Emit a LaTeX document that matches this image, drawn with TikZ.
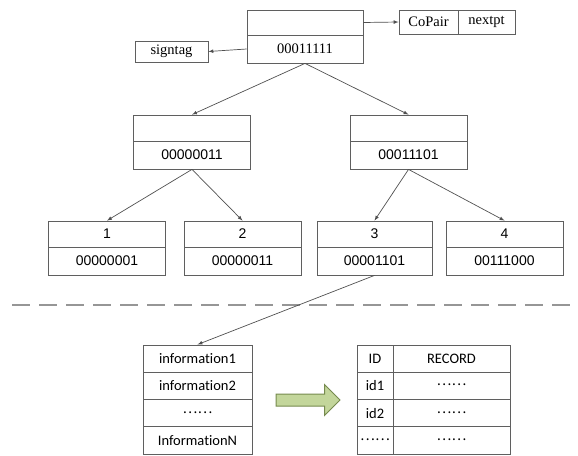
\documentclass[tikz,border=0pt]{standalone}
\usepackage{fontspec}
\setmainfont{Liberation Serif}
\newfontfamily\treefont{Liberation Sans}
\newfontfamily\tablefont[Ligatures=CommonOff]{Carlito}
\newfontfamily\dotsfont{Noto Sans CJK SC}
\usetikzlibrary{shapes.arrows}
\definecolor{linegray}{RGB}{80,80,80}
\definecolor{boxgray}{RGB}{95,95,95}
\definecolor{dashgray}{RGB}{150,150,150}
\definecolor{arrowfill}{RGB}{195,214,155}
\definecolor{arrowline}{RGB}{118,138,78}

\begin{document}
\begin{tikzpicture}[x=1pt,y=-1pt,>=latex]
  \tikzstyle{cell}=[draw=boxgray, line width=0.8pt, inner sep=0pt, minimum width=117pt, font=\treefont\fontsize{14}{16}\selectfont]
  \tikzstyle{serifcell}=[cell, font=\fontsize{14.5}{16}\selectfont]
  \tikzstyle{row}=[draw=boxgray, line width=0.8pt, inner sep=0pt, minimum height=27.3pt, font=\tablefont\fontsize{14.5}{16}\selectfont]
  \tikzstyle{arrow}=[->, draw=linegray, line width=0.7pt]
  \newcommand{\sixdots}{{\dotsfont\fontsize{14}{16}\selectfont\raisebox{2pt}{……}}}

  \useasboundingbox (0,0) rectangle (578,455);

  % root with its two pointers
  \node[serifcell, minimum width=116pt, minimum height=25pt] (root) at (305,22.5) {};
  \node[serifcell, minimum width=116pt, minimum height=28pt] (rootkey) at (305,49) {00011111};
  \node[serifcell, minimum width=59pt, minimum height=24pt] (copair) at (428.5,22) {CoPair};
  \node[serifcell, minimum width=57pt, minimum height=24pt] (nextpt) at (486.5,22) {nextpt\hspace{6pt}};
  \node[serifcell, minimum width=73pt, minimum height=21pt] (signtag) at (171.5,51.5) {signtag};

  \draw[arrow] (root.east) -- (copair.west);
  \draw[arrow] (rootkey.west) -- (signtag.east);

  % second level
  \node[cell, minimum height=26pt] (ltop) at (192,128) {};
  \node[cell, minimum height=28pt] (lkey) at (192,155) {00000011};
  \node[cell, minimum height=26pt] (rtop) at (408.5,128) {};
  \node[cell, minimum height=28pt] (rkey) at (408.5,155) {00011101};

  \draw[arrow] (rootkey.south) -- (ltop.north);
  \draw[arrow] (rootkey.south) -- (rtop.north);

  % leaves
  \node[cell, minimum height=26pt] (b1top) at (107,234) {1};
  \node[cell, minimum height=28pt] (b1key) at (107,261) {00000001};
  \node[cell, minimum height=26pt] (b2top) at (242.5,234) {2};
  \node[cell, minimum height=28pt] (b2key) at (242.5,261) {00000011};
  \node[cell, minimum height=26pt, minimum width=115pt] (b3top) at (374.5,234) {3};
  \node[cell, minimum height=28pt, minimum width=115pt] (b3key) at (374.5,261) {00001101};
  \node[cell, minimum height=26pt] (b4top) at (504.5,234) {4};
  \node[cell, minimum height=28pt] (b4key) at (504.5,261) {00111000};

  \draw[arrow] (lkey.south) -- (b1top.north);
  \draw[arrow] (lkey.south) -- (b2top.north);
  \draw[arrow] (rkey.south) -- (b3top.north);
  \draw[arrow] (rkey.south) -- (b4top.north);

  % separator
  \draw[dashgray, line width=1.8pt, dash pattern=on 18pt off 9pt] (12,305) -- (573,305);

  % information list
  \node[row, minimum width=109pt] (info1) at (197.5,358.6) {information1};
  \node[row, minimum width=109pt] (info2) at (197.5,385.9) {information2};
  \node[row, minimum width=109pt] (info3) at (197.5,413.2) {\sixdots};
  \node[row, minimum width=109pt] (infon) at (197.5,440.5) {InformationN};

  \draw[arrow] (b3key.south) -- (info1.north);

  \node[single arrow, fill=arrowfill, draw=arrowline, line width=1pt, inner xsep=0pt, inner ysep=5.5pt,
        single arrow head extend=9.5pt, single arrow tip angle=90, minimum height=64pt] (conv) at (305,400) {};

  % record table
  \node[row, minimum width=36pt] (idh) at (375,358.6) {ID};
  \node[row, minimum width=117pt] (rech) at (451.5,358.6) {RECORD};
  \node[row, minimum width=36pt] (id1) at (375,385.9) {id1};
  \node[row, minimum width=117pt] (rec1) at (451.5,385.9) {\sixdots};
  \node[row, minimum width=36pt] (id2) at (375,413.2) {id2};
  \node[row, minimum width=117pt] (rec2) at (451.5,413.2) {\sixdots};
  \node[row, minimum width=36pt] (idn) at (375,440.5) {\sixdots};
  \node[row, minimum width=117pt] (recn) at (451.5,440.5) {\sixdots};
\end{tikzpicture}
\end{document}
